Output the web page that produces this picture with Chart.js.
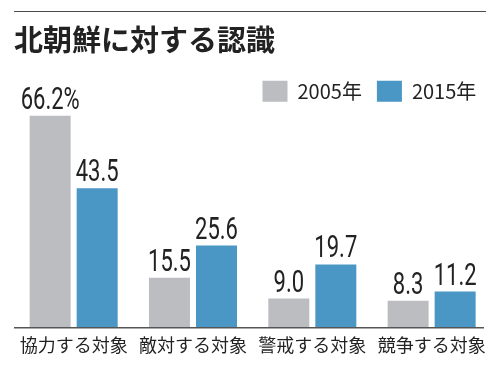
<!DOCTYPE html>
<html>
<head>
<meta charset="utf-8">
<script src="https://cdn.jsdelivr.net/npm/chart.js@4"></script>
<style>
html,body{margin:0;padding:0;background:#fff;}
#wrap{width:500px;height:378px;position:relative;}
</style>
</head>
<body>
<div id="wrap"><canvas id="c" width="500" height="378"></canvas></div>
<script>
const titleText = '北朝鮮に対する認識';
const categories = ['協力する対象', '敵対する対象', '警戒する対象', '競争する対象'];
const seriesNames = ['2005年', '2015年'];
const values2005 = [66.2, 15.5, 9.0, 8.3];
const values2015 = [43.5, 25.6, 19.7, 11.2];
const labels2005 = ['66.2%', '15.5', '9.0', '8.3'];
const labels2015 = ['43.5', '25.6', '19.7', '11.2'];

const GRAY = '#bcbdc1';
const BLUE = '#4a96c4';
const JP = '"Noto Sans CJK JP", "Noto Sans", sans-serif';

const decor = {
  id: 'decor',
  beforeDraw(chart) {
    const ctx = chart.ctx;
    ctx.save();
    ctx.strokeStyle = '#4a4a4a';
    ctx.lineWidth = 1.2;
    ctx.beginPath();
    ctx.moveTo(14, 11.5);
    ctx.lineTo(486, 11.5);
    ctx.stroke();
    ctx.restore();
  },
  afterDatasetsDraw(chart) {
    const ctx = chart.ctx;
    const area = chart.chartArea;
    ctx.save();
    ctx.strokeStyle = '#555';
    ctx.lineWidth = 1.5;
    ctx.beginPath();
    ctx.moveTo(area.left, area.bottom + 0.25);
    ctx.lineTo(484, area.bottom + 0.25);
    ctx.stroke();
    const lbls = [labels2005, labels2015];
    ctx.fillStyle = '#222';
    ctx.font = '400 31px Roboto, "Liberation Sans", sans-serif';
    ctx.textAlign = 'center';
    ctx.textBaseline = 'alphabetic';
    chart.data.datasets.forEach((ds, di) => {
      const meta = chart.getDatasetMeta(di);
      meta.data.forEach((bar, i) => {
        ctx.save();
        ctx.translate(bar.x, bar.y - 7);
        ctx.scale(0.71, 1);
        ctx.fillText(lbls[di][i], 0, 0);
        ctx.restore();
      });
    });
    ctx.restore();
  }
};

new Chart(document.getElementById('c'), {
  type: 'bar',
  data: {
    labels: categories,
    datasets: [
      { label: seriesNames[0], data: values2005, backgroundColor: GRAY },
      { label: seriesNames[1], data: values2015, backgroundColor: BLUE }
    ]
  },
  options: {
    responsive: false,
    animation: false,
    devicePixelRatio: 1,
    layout: { padding: { left: 14, right: 8.7, top: 0, bottom: 15 } },
    datasets: { bar: { categoryPercentage: 0.788, barPercentage: 0.872 } },
    plugins: {
      title: {
        display: true,
        text: titleText,
        align: 'start',
        color: '#222',
        font: { family: JP, size: 29, weight: 'bold' },
        padding: { top: 23, bottom: 8 }
      },
      legend: {
        display: true,
        position: 'top',
        align: 'end',
        labels: {
          boxWidth: 25,
          boxHeight: 21,
          padding: 15,
          color: '#222',
          font: { family: JP, size: 20 }
        }
      },
      tooltip: { enabled: false }
    },
    scales: {
      x: {
        grid: { display: false, drawTicks: false },
        border: { display: false },
        ticks: { color: '#222', font: { family: JP, size: 18 }, padding: 7 }
      },
      y: {
        display: false,
        min: 0,
        max: 67.4
      }
    }
  },
  plugins: [decor]
});
</script>
</body>
</html>
